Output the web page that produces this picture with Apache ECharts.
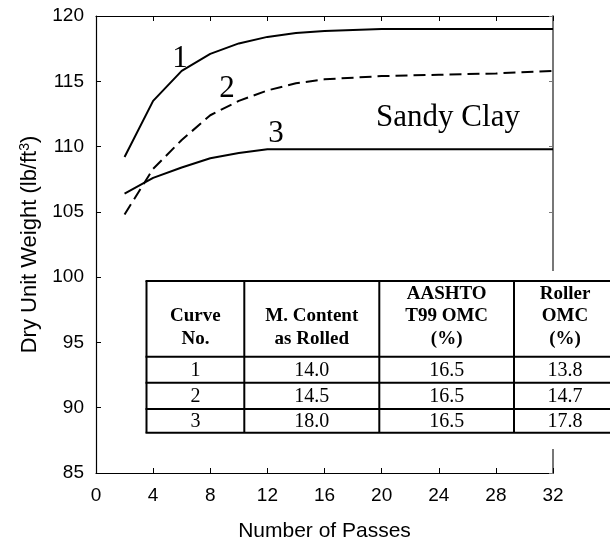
<!DOCTYPE html>
<html>
<head>
<meta charset="utf-8">
<script src="https://cdn.jsdelivr.net/npm/echarts@6/dist/echarts.min.js"></script>
<style>
  html, body { margin: 0; padding: 0; background: #fff; }
  #chart { width: 610px; height: 544px; }
</style>
</head>
<body>
<div id="chart"></div>
<script>
// Dry unit weight vs. number of roller passes, sandy clay
const passes1 = [2, 4, 6, 8, 10, 12, 14, 16, 20, 32];
const weight1 = [109.2, 113.5, 115.8, 117.1, 117.9, 118.4, 118.7, 118.85, 119.0, 119.0];

const passes2 = [2, 4, 6, 8, 10, 12, 14, 16, 20, 24, 28, 32];
const weight2 = [104.8, 108.3, 110.5, 112.4, 113.5, 114.3, 114.85, 115.15, 115.4, 115.5, 115.6, 115.8];

const passes3 = [2, 4, 6, 8, 10, 12, 32];
const weight3 = [106.4, 107.6, 108.4, 109.1, 109.5, 109.8, 109.8];

const xTicks = [0, 4, 8, 12, 16, 20, 24, 28, 32];
const yTicks = [85, 90, 95, 100, 105, 110, 115, 120];

// Summary table
const tableHeader = [
  ['', 'Curve', 'No.'],
  ['', 'M. Content', 'as Rolled'],
  ['AASHTO', 'T99 OMC', '(%)'],
  ['Roller', 'OMC', '(%)']
];
const curveNo = ['1', '2', '3'];
const contentRolled = ['14.0', '14.5', '18.0'];
const aashtoOmc = ['16.5', '16.5', '16.5'];
const rollerOmc = ['13.8', '14.7', '17.8'];

const SANS = '"Liberation Sans", Arial, sans-serif';
const SERIF = '"Liberation Serif", "Times New Roman", serif';

const pair = (xs, ys) => xs.map((x, i) => [x, ys[i]]);

const chart = echarts.init(document.getElementById('chart'), null, { renderer: 'canvas' });

// table geometry (pixels)
const colX = [146.5, 244.3, 379.3, 514, 616];
const rowY = [281, 356.7, 382.7, 409, 432.7];
const headLineY = [294, 316.5, 339];

const tableEls = [];
tableEls.push({
  type: 'rect', z: 100,
  shape: { x: 138, y: 271, width: 480, height: 178 },
  style: { fill: '#fff' }
});
rowY.forEach(y => tableEls.push({
  type: 'line', z: 101,
  shape: { x1: colX[0] - 1, y1: y, x2: colX[4], y2: y },
  style: { stroke: '#000', lineWidth: 2 }
}));
colX.forEach(x => tableEls.push({
  type: 'line', z: 101,
  shape: { x1: x, y1: rowY[0], x2: x, y2: rowY[4] },
  style: { stroke: '#000', lineWidth: 2 }
}));
tableHeader.forEach((lines, c) => {
  const cx = (colX[c] + colX[c + 1]) / 2;
  lines.forEach((t, r) => {
    if (!t) return;
    tableEls.push({
      type: 'text', z: 102, x: cx, y: headLineY[r],
      style: { text: t, font: 'bold 19px ' + SERIF, fill: '#000', align: 'center', verticalAlign: 'middle' }
    });
  });
});
[curveNo, contentRolled, aashtoOmc, rollerOmc].forEach((col, c) => {
  const cx = (colX[c] + colX[c + 1]) / 2;
  col.forEach((t, r) => {
    tableEls.push({
      type: 'text', z: 102, x: cx, y: (rowY[r + 1] + rowY[r + 2]) / 2 + 1,
      style: { text: t, font: '20px ' + SERIF, fill: '#000', align: 'center', verticalAlign: 'middle' }
    });
  });
});

// curve numbers and soil name, anchored at their vertical centre
const curveLabel = (text, x, y) => ({
  type: 'text', z: 50, x, y,
  style: { text, font: '31px ' + SERIF, fill: '#000', align: 'center', verticalAlign: 'middle' }
});

const option = {
  animation: false,
  backgroundColor: '#fff',
  grid: { left: 96, right: 57, top: 16, bottom: 71, containLabel: false, outerBoundsMode: 'none' },
  xAxis: [{
    type: 'value', min: xTicks[0], max: xTicks[xTicks.length - 1], interval: 4,
    name: 'Number of Passes', nameLocation: 'middle', nameGap: 48,
    nameTextStyle: { fontFamily: SANS, fontSize: 21, color: '#000' },
    axisLine: { show: true, onZero: false, lineStyle: { color: '#000', width: 1.2 } },
    axisTick: { show: true, inside: true, length: 5, lineStyle: { color: '#000' } },
    axisLabel: { fontFamily: SANS, fontSize: 19, color: '#000', margin: 13 },
    splitLine: { show: false }
  }, {
    type: 'value', position: 'top', min: xTicks[0], max: xTicks[xTicks.length - 1], interval: 4,
    axisLine: { show: true, onZero: false, lineStyle: { color: '#000', width: 1.2 } },
    axisTick: { show: true, inside: true, length: 5, lineStyle: { color: '#000' } },
    axisLabel: { show: false },
    splitLine: { show: false }
  }],
  yAxis: [{
    type: 'value', min: yTicks[0], max: yTicks[yTicks.length - 1], interval: 5,
    name: 'Dry Unit Weight (lb/ft{sup|3})', nameLocation: 'middle', nameGap: 54,
    nameTextStyle: {
      fontFamily: SANS, fontSize: 22, color: '#000',
      rich: { sup: { fontFamily: SANS, fontSize: 14, color: '#000', verticalAlign: 'top', lineHeight: 24 } }
    },
    axisLine: { show: true, onZero: false, lineStyle: { color: '#000', width: 1.2 } },
    axisTick: { show: true, inside: true, length: 5, lineStyle: { color: '#000' } },
    axisLabel: { fontFamily: SANS, fontSize: 19, color: '#000', margin: 12 },
    splitLine: { show: false }
  }, {
    type: 'value', position: 'right', min: yTicks[0], max: yTicks[yTicks.length - 1], interval: 5,
    axisLine: { show: true, onZero: false, lineStyle: { color: '#777', width: 2 } },
    axisTick: { show: true, inside: true, length: 4, lineStyle: { color: '#777' } },
    axisLabel: { show: false },
    splitLine: { show: false }
  }],
  series: [
    { type: 'line', data: pair(passes1, weight1), symbol: 'none',
      lineStyle: { color: '#000', width: 2 }, z: 3 },
    { type: 'line', data: pair(passes2, weight2), symbol: 'none',
      lineStyle: { color: '#000', width: 2, type: [12, 6] }, z: 3 },
    { type: 'line', data: pair(passes3, weight3), symbol: 'none',
      lineStyle: { color: '#000', width: 2 }, z: 3 }
  ],
  graphic: { elements: [
    curveLabel('1', 180, 59),
    curveLabel('2', 227, 89),
    curveLabel('3', 276, 134),
    curveLabel('Sandy Clay', 448, 118),
    ...tableEls
  ] }
};

chart.setOption(option);
</script>
</body>
</html>
